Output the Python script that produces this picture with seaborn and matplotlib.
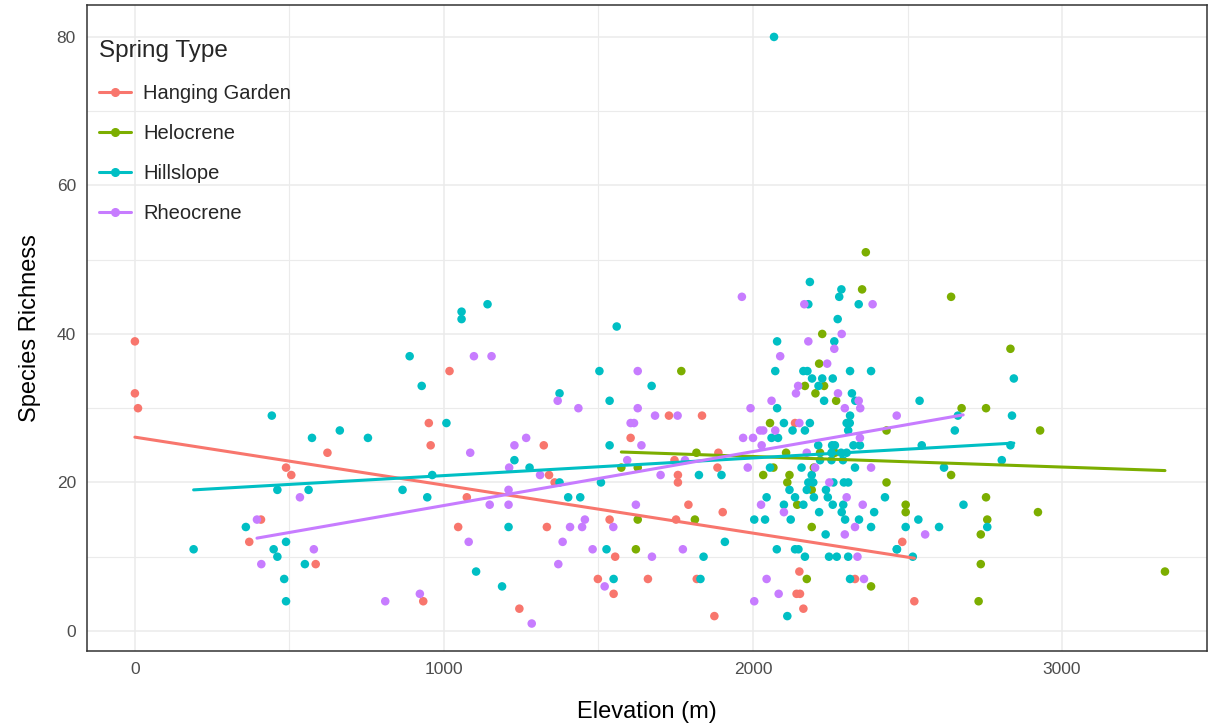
import matplotlib
matplotlib.use("Agg")
import matplotlib.pyplot as plt
from matplotlib.lines import Line2D
from matplotlib.ticker import MultipleLocator
import seaborn as sns
import pandas as pd

# ---------------- data ----------------
spring_types = ["Hanging Garden", "Helocrene", "Hillslope", "Rheocrene"]
colors = ["#F8766D", "#7CAE00", "#00BFC4", "#C77CFF"]

hg_elev = [0, 0, 10, 623, 489, 506, 408, 370, 585, 933, 1018, 951, 957, 1323, 1604, 1728, 1835,
           1746, 1888, 1340, 1358, 1757, 1757, 1885, 1074, 1791, 1902, 1046, 1333, 1536, 1751,
           1554, 1498, 1660, 1818, 1549, 1244, 1875, 2136, 2150, 2330, 2141, 2152, 2163, 2483, 2522]
hg_rich = [39, 32, 30, 24, 22, 21, 15, 12, 9, 4, 35, 28, 25, 25, 26, 29, 29,
           23, 24, 21, 20, 21, 20, 22, 18, 17, 16, 14, 14, 15, 15,
           10, 7, 7, 7, 5, 3, 2, 28, 8, 7, 5, 5, 3, 12, 4]

hel_elev = [1768, 1574, 1627, 1817, 1627, 1812, 1621, 2365, 2353, 2224, 2214, 2168, 2230, 2202,
            2269, 2055, 2432, 2107, 2217, 2265, 2033, 2066, 2118, 2111, 2432, 2190, 2143, 2190,
            2174, 2382, 2641, 2833, 2675, 2754, 2929, 2641, 2754, 2494, 2494, 2922, 2758, 2737,
            2737, 3333, 2730, 2197]
hel_rich = [35, 22, 22, 24, 15, 15, 11, 51, 46, 40, 36, 33, 33, 32,
            31, 28, 27, 24, 24, 24, 21, 22, 21, 20, 20, 19, 17, 14,
            7, 6, 45, 38, 30, 30, 27, 21, 18, 17, 16, 16, 15, 13,
            9, 8, 4, 22]

hill_elev = [889, 443, 573, 663, 754, 461, 562, 866, 359, 489, 190, 449, 461, 550, 483, 489,
             1057, 1057, 1141, 1559, 1503, 928, 1672, 1374, 1536, 1008, 1536, 1228, 1277, 962,
             1374, 1508, 1825, 1898, 946, 1402, 1441, 1209, 1909, 1526, 1840, 1104, 1188, 1549, 1830,
             2068, 2184, 2286, 2279, 2179, 2342, 2274, 2078, 2263, 2072, 2163, 2176, 2314, 2382,
             2191, 2224, 2258, 2212, 2320, 2230, 2331, 2078, 2314, 2100, 2184, 2313, 2128, 2168,
             2308, 2060, 2081, 2211, 2256, 2265, 2325, 2346, 2254, 2285, 2303, 2217, 2254, 2291,
             2055, 2157, 2330, 2190, 2179, 2195, 2260, 2294, 2308, 2118, 2174, 2236, 2044, 2136,
             2197, 2242, 2427, 2100, 2163, 2258, 2292, 2214, 2287, 2392, 2004, 2039, 2122, 2298,
             2343, 2382, 2235, 2077, 2136, 2147, 2465, 2168, 2246, 2271, 2308, 2314, 2111, 2303,
             2844, 2539, 2663, 2838, 2653, 2546, 2833, 2805, 2618, 2681, 2535, 2494, 2602, 2758,
             2466, 2517]
hill_rich = [37, 29, 26, 27, 26, 19, 19, 19, 14, 12, 11, 11, 10, 9, 7, 4,
             43, 42, 44, 41, 35, 33, 33, 32, 31, 28, 25, 23, 22, 21,
             20, 20, 21, 21, 18, 18, 18, 14, 12, 11, 10, 8, 6, 7, 7,
             80, 47, 46, 45, 44, 44, 42, 39, 39, 35, 35, 35, 35, 35,
             34, 34, 34, 33, 32, 31, 31, 30, 29, 28, 28, 28, 27, 27,
             27, 26, 26, 25, 25, 25, 25, 25, 24, 24, 24, 23, 23, 23,
             22, 22, 22, 21, 20, 20, 20, 20, 20, 19, 19, 19, 18, 18,
             18, 18, 18, 17, 17, 17, 17, 16, 16, 16, 15, 15, 15, 15,
             15, 14, 13, 11, 11, 11, 11, 10, 10, 10, 10, 7, 2, 28,
             34, 31, 29, 29, 27, 25, 25, 23, 22, 17, 15, 14, 14, 14,
             11, 10]

rheo_elev = [534, 395, 579, 409, 810, 922, 1097, 1154, 1368, 1435, 1627, 1627, 1683, 1756, 1604,
             1615, 1085, 1228, 1266, 1639, 1211, 1593, 1780, 1311, 1701, 1209, 1148, 1209, 1621,
             1408, 1447, 1456, 1548, 1080, 1384, 1481, 1773, 1673, 1370, 1520, 1284,
             1964, 2166, 2387, 2287, 2179, 2263, 2088, 2240, 2146, 2139, 2275, 2342, 2347, 2060,
             1992, 2297, 2465, 2150, 2023, 2033, 2072, 1968, 2000, 2346, 2028, 2174, 1983, 2201,
             2382, 2247, 2303, 2026, 2355, 2100, 2330, 2297, 2338, 2044, 2359, 2083, 2004, 2557]
rheo_rich = [18, 15, 11, 9, 4, 5, 37, 37, 31, 30, 30, 35, 29, 29, 28,
             28, 24, 25, 26, 25, 22, 23, 23, 21, 21, 19, 17, 17, 17,
             14, 14, 15, 14, 12, 12, 11, 11, 10, 9, 6, 1,
             45, 44, 44, 40, 39, 38, 37, 36, 33, 32, 32, 31, 30, 31,
             30, 30, 29, 28, 27, 27, 27, 26, 26, 26, 25, 24, 22, 22,
             22, 20, 18, 17, 17, 16, 14, 13, 10, 7, 7, 5, 4, 13]

# fitted linear trend endpoints
hg_fit_x, hg_fit_y = [0, 2522], [26.1, 9.8]
hel_fit_x, hel_fit_y = [1574, 3333], [24.1, 21.6]
hill_fit_x, hill_fit_y = [190, 2844], [19.0, 25.3]
rheo_fit_x, rheo_fit_y = [395, 2680], [12.5, 29.1]

# ---------------- build tables ----------------
pts = pd.concat([
    pd.DataFrame({"Elevation": hg_elev, "Richness": hg_rich, "Type": spring_types[0]}),
    pd.DataFrame({"Elevation": hel_elev, "Richness": hel_rich, "Type": spring_types[1]}),
    pd.DataFrame({"Elevation": hill_elev, "Richness": hill_rich, "Type": spring_types[2]}),
    pd.DataFrame({"Elevation": rheo_elev, "Richness": rheo_rich, "Type": spring_types[3]}),
], ignore_index=True)
fits = pd.concat([
    pd.DataFrame({"Elevation": hg_fit_x, "Richness": hg_fit_y, "Type": spring_types[0]}),
    pd.DataFrame({"Elevation": hel_fit_x, "Richness": hel_fit_y, "Type": spring_types[1]}),
    pd.DataFrame({"Elevation": hill_fit_x, "Richness": hill_fit_y, "Type": spring_types[2]}),
    pd.DataFrame({"Elevation": rheo_fit_x, "Richness": rheo_fit_y, "Type": spring_types[3]}),
], ignore_index=True)

palette = dict(zip(spring_types, colors))

# ---------------- figure ----------------
sns.set_style("white")
plt.rcParams["font.family"] = ["Liberation Sans", "DejaVu Sans"]

fig = plt.figure(figsize=(12.09, 7.27), dpi=100)
ax = fig.add_axes([87 / 1209, 1 - 651 / 727, (1207 - 87) / 1209, (651 - 5) / 727])

sns.scatterplot(data=pts, x="Elevation", y="Richness", hue="Type", hue_order=spring_types,
                palette=palette, s=38, linewidth=0, edgecolor="none", legend=False, ax=ax,
                zorder=3)
sns.lineplot(data=fits, x="Elevation", y="Richness", hue="Type", hue_order=spring_types,
             palette=palette, linewidth=2.2, legend=False, ax=ax, zorder=4,
             estimator=None, sort=True)

ax.set_xlim(-155, 3469)
ax.set_ylim(-2.7, 84.3)
ax.xaxis.set_major_locator(MultipleLocator(1000))
ax.xaxis.set_minor_locator(MultipleLocator(500))
ax.yaxis.set_major_locator(MultipleLocator(20))
ax.yaxis.set_minor_locator(MultipleLocator(10))
ax.grid(which="major", color="#EBEBEB", linewidth=1.1, zorder=0)
ax.grid(which="minor", color="#EBEBEB", linewidth=0.8, zorder=0)
ax.set_axisbelow(True)

for sp in ax.spines.values():
    sp.set_color("#333333")
    sp.set_linewidth(1.1)

ax.tick_params(axis="both", which="major", length=5, width=1.1, color="#333333",
               labelsize=12.5, labelcolor="#4D4D4D", pad=3)
ax.tick_params(axis="both", which="minor", length=0)

ax.set_xlabel("Elevation (m)", fontsize=17, color="black", labelpad=17)
ax.set_ylabel("Species Richness", fontsize=17, color="black", labelpad=11)

handles = [Line2D([0], [0], color=c, lw=2.2, marker="o", markersize=5.5) for c in colors]
leg = ax.legend(handles, spring_types, title="Spring Type", loc="upper left",
                bbox_to_anchor=(-0.002, 0.967), frameon=False, fontsize=14.5,
                title_fontsize=17.5, handlelength=1.6, handletextpad=0.6,
                labelspacing=1.05, borderaxespad=0.4, borderpad=0.3)
leg._legend_box.align = "left"

fig.savefig("out.png", dpi=100)
